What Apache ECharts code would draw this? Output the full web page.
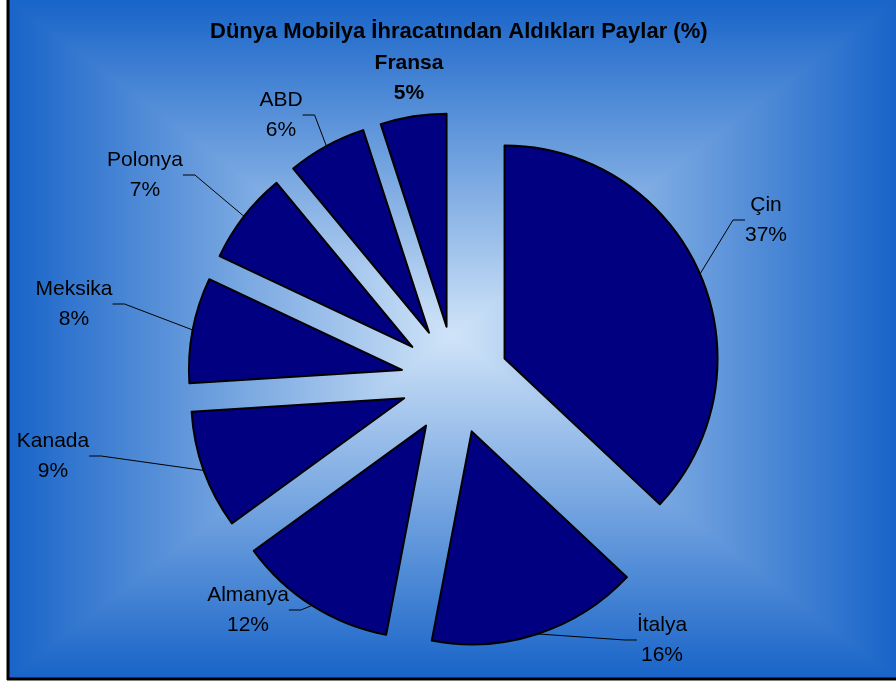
<!DOCTYPE html>
<html><head><meta charset="utf-8">
<script src="https://cdn.jsdelivr.net/npm/echarts@6/dist/echarts.min.js"></script>
<style>html,body{margin:0;padding:0;background:#fff}#c{width:896px;height:685px}</style>
</head><body><div id="c"></div>
<script>
const titleText = 'Dünya Mobilya İhracatından Aldıkları Paylar (%)';
const categories = ['Çin', 'İtalya', 'Almanya', 'Kanada', 'Meksika', 'Polonya', 'ABD', 'Fransa'];
const shares = [37, 16, 12, 9, 8, 7, 6, 5];
const boldLabels = ['Fransa'];

// label block centres (layout only)
const labelCenters = [[766, 220], [662, 640], [248, 610], [53, 456], [74, 304], [145, 175], [281, 115], [409, 78]];

// pie geometry (layout only)
const PCX = 455, PCY = 380, R = 213, OFF = 54;

const X0 = 9, Y0 = 0, X1 = 896, Y1 = 678;
const CX = (X0 + X1) / 2, CY = 335;
const edge = '#1864c8', mid = '#d0e4f8';
function grad(x, y, x2, y2) {
  return new echarts.graphic.LinearGradient(x, y, x2, y2, [{offset: 0, color: edge}, {offset: 1, color: mid}]);
}
const cornerDist = Math.sqrt((CX - X0) * (CX - X0) + (CY - Y0) * (CY - Y0));
const baseGrad = new echarts.graphic.RadialGradient(CX, CY, cornerDist, [{offset: 0, color: mid}, {offset: 1, color: edge}], true);

const chart = echarts.init(document.getElementById('c'), null, {renderer: 'canvas'});
const font = '"Liberation Sans", Arial, sans-serif';

const total = shares.reduce((a, b) => a + b, 0);
let acc = 0;
const series = categories.map((name, i) => {
  const midFrac = (acc + shares[i] / 2) / total;
  acc += shares[i];
  const ang = midFrac * 2 * Math.PI;
  const bold = boldLabels.includes(name);
  return {
    type: 'pie',
    center: [PCX + OFF * Math.sin(ang), PCY - OFF * Math.cos(ang)],
    radius: R,
    startAngle: 90,
    clockwise: true,
    silent: true,
    avoidLabelOverlap: false,
    emphasis: {disabled: true},
    label: {
      show: true, position: 'outside', formatter: '{b}\n{c}%',
      fontFamily: font, fontSize: 21, color: '#000', lineHeight: 30, align: 'center',
      fontWeight: bold ? 'bold' : 'normal'
    },
    labelLine: {show: !bold, length: 15, length2: 12, lineStyle: {color: '#000', width: 1}},
    labelLayout: function (p) {
      const c = labelCenters[p.dataIndex];
      return {x: c[0], y: c[1], align: 'center', verticalAlign: 'middle'};
    },
    data: categories.map((n, j) => ({
      name: n, value: shares[j],
      itemStyle: j === i ? {color: '#000080', borderColor: '#000', borderWidth: 2}
                         : {color: 'rgba(0,0,0,0)', borderWidth: 0},
      label: {show: j === i},
      labelLine: {show: j === i && !bold}
    }))
  };
});

chart.setOption({
  animation: false,
  backgroundColor: '#ffffff',
  title: {
    text: titleText, left: 205, top: 16,
    textStyle: {fontFamily: font, fontSize: 22, fontWeight: 'bold', color: '#000'}
  },
  graphic: [
    {type: 'rect', z: -5, shape: {x: X0, y: Y0, width: X1 - X0, height: Y1 - Y0}, style: {fill: baseGrad}},
    {type: 'polygon', z: -4, shape: {points: [[X0, Y0], [X1, Y0], [CX, CY]]}, style: {fill: grad(0, 0, 0, 1)}},
    {type: 'polygon', z: -4, shape: {points: [[X0, Y1], [X1, Y1], [CX, CY]]}, style: {fill: grad(0, 1, 0, 0)}},
    {type: 'polygon', z: -4, shape: {points: [[X0, Y0], [X0, Y1], [CX, CY]]}, style: {fill: grad(0, 0, 1, 0)}},
    {type: 'polygon', z: -4, shape: {points: [[X1, Y0], [X1, Y1], [CX, CY]]}, style: {fill: grad(1, 0, 0, 0)}},
    {type: 'line', z: -3, shape: {x1: X0 - 1, y1: Y0, x2: X0 - 1, y2: Y1 + 2}, style: {stroke: '#000', lineWidth: 3}},
    {type: 'line', z: -3, shape: {x1: X0 - 2, y1: Y1 + 1, x2: 896, y2: Y1 + 1}, style: {stroke: '#000', lineWidth: 3}}
  ],
  series: series
});
</script></body></html>
